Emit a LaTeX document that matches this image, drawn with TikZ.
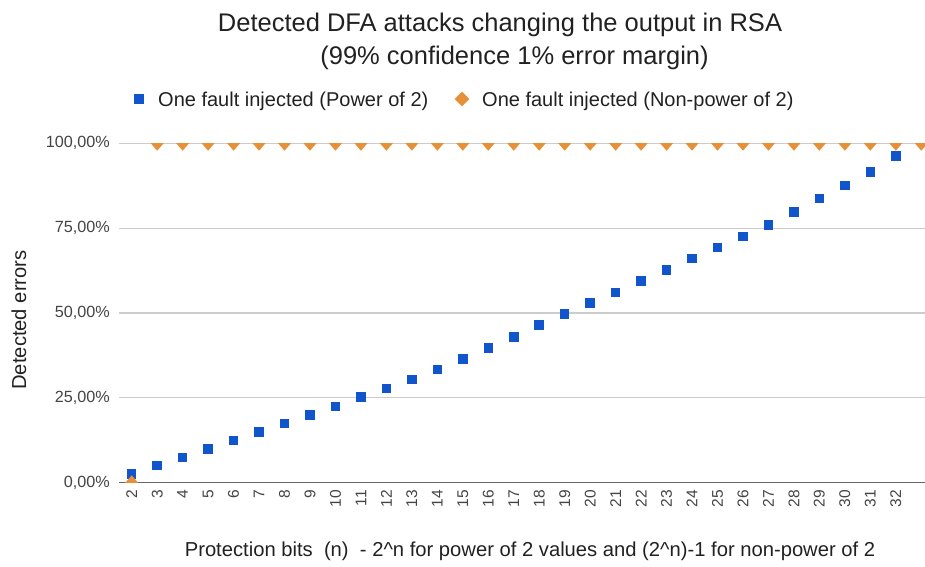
\documentclass[tikz,border=0pt]{standalone}
\usepackage{fontspec}
\setmainfont{Liberation Sans}
\usetikzlibrary{shapes.geometric}
\definecolor{serblue}{HTML}{1155CC}
\definecolor{serorange}{HTML}{E69138}
\definecolor{gridgray}{HTML}{CCCCCC}
\definecolor{axisgray}{HTML}{666666}
\definecolor{labelgray}{HTML}{444444}
\definecolor{titlegray}{HTML}{212121}
\begin{document}
\begin{tikzpicture}[x=1pt,y=-1pt,
  bluesq/.style={rectangle,fill=serblue,inner sep=0pt,minimum size=9.5pt},
  orgdia/.style={diamond,fill=serorange,inner sep=0pt,minimum width=13pt,minimum height=15pt},
  legsq/.style={rectangle,fill=serblue,inner sep=0pt,minimum size=10.5pt},
  legdia/.style={diamond,fill=serorange,inner sep=0pt,minimum width=15pt,minimum height=15pt},
  ticklab/.style={font=\fontsize{16.2}{19}\selectfont,text=labelgray,anchor=east,inner sep=0pt},
  xlab/.style={font=\fontsize{15.5}{18}\selectfont,text=labelgray,rotate=90,anchor=east,inner sep=0pt},
  legtext/.style={font=\fontsize{20}{24}\selectfont,text=titlegray,anchor=base west,inner sep=0pt},
  titletext/.style={font=\fontsize{25.5}{30}\selectfont,text=titlegray,anchor=base,inner sep=0pt},
  axtitle/.style={font=\fontsize{20.2}{24}\selectfont,text=titlegray,inner sep=0pt},
  gridline/.style={draw=gridgray,line width=1.1pt},
]
\useasboundingbox (0,0) rectangle (925,566);

% title
\node[titletext] (title1) at (500,31.5) {Detected DFA attacks changing the output in RSA};
\node[titletext] (title2) at (514.5,64) {(99\% confidence 1\% error margin)};

% legend
\node[legsq] (legA) at (139,99) {};
\node[legtext] (legAt) at (158,106) {One fault injected (Power of 2)};
\node[legdia] (legB) at (462,99) {};
\node[legtext] (legBt) at (482,106) {One fault injected (Non-power of 2)};

% horizontal grid and value labels
\foreach \val/\lab in {25/{25,00\%},50/{50,00\%},75/{75,00\%},100/{100,00\%}}{
  \pgfmathsetmacro{\yy}{482.7-3.394*\val}
  \coordinate (gl\val) at (119,\yy);
  \coordinate (gr\val) at (925,\yy);
  \draw[gridline] (gl\val) -- (gr\val);
  \node[ticklab] (yl\val) at (110,\yy) {\lab};
}
\coordinate (axl) at (119,482.7);
\coordinate (axr) at (925,482.7);
\draw[draw=axisgray,line width=1.5pt] (axl) -- (axr);
\node[ticklab] (yl0) at (110,482.7) {0,00\%};

% category labels
\foreach \n in {2,...,32}{
  \pgfmathsetmacro{\xx}{131.7+(\n-2)*25.47}
  \node[xlab] (xl\n) at (\xx,490) {\n};
}

% data series, clipped to the plot area
\begin{scope}
\clip (119,143.3) rectangle (925,482.7);
\foreach \n/\val in {2/2.5,3/5,4/7.5,5/10,6/12.5,7/15,8/17.5,9/20,10/22.5,11/25.2,
  12/27.8,13/30.4,14/33.4,15/36.5,16/39.7,17/42.9,18/46.5,19/49.7,20/52.9,
  21/56.1,22/59.4,23/62.6,24/66.0,25/69.3,26/72.5,27/75.9,28/79.8,29/83.7,
  30/87.6,31/91.6,32/96.2}{
  \pgfmathsetmacro{\xx}{131.7+(\n-2)*25.47}
  \pgfmathsetmacro{\yy}{482.7-3.394*\val}
  \node[bluesq] (b\n) at (\xx,\yy) {};
}
\node[orgdia] (o2) at (131.7,482.7) {};
\foreach \n in {3,...,33}{
  \pgfmathsetmacro{\xx}{131.7+(\n-2)*25.47}
  \node[orgdia] (o\n) at (\xx,143.3) {};
}
\end{scope}

% axis titles
\node[axtitle,rotate=90] (ytitle) at (19,320) {Detected errors};
\node[axtitle] (xtitle) at (530,551) {Protection bits\ \ (n)\ \ - 2\^{}n for power of 2 values and (2\^{}n)-1 for non-power of 2};
\end{tikzpicture}
\end{document}
